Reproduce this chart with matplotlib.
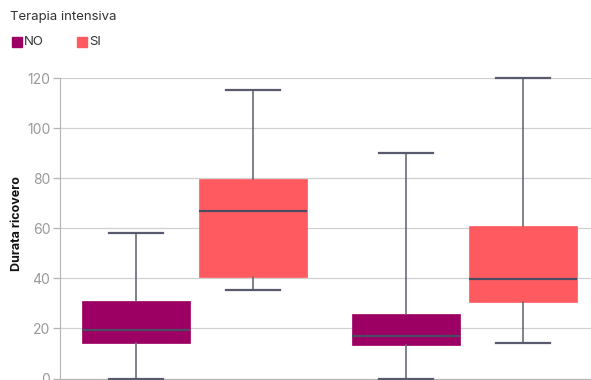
import matplotlib.pyplot as plt
from matplotlib.patches import Rectangle

# categorie (etichette asse x fuori dall'immagine)
gruppi = ['A', 'B']
serie = ['NO', 'SI']
colori = {'NO': '#9c0062', 'SI': '#ff5a5f'}

# statistiche box: min, q1, mediana, q3, max
no_stats = [
    [0, 14, 19.2, 30.8, 58],
    [0, 13.2, 16.8, 25.8, 90],
]
si_stats = [
    [35.2, 40.4, 66.8, 79.6, 115.2],
    [14, 30.4, 39.6, 61, 120],
]

plt.rcParams['font.family'] = ['Inter', 'DejaVu Sans']

fig = plt.figure(figsize=(5.91, 3.8), dpi=100)
ax = fig.add_axes([60 / 591, 1.5 / 380, 539 / 591, 300.5 / 380])

def to_bxp(stats, label):
    out = []
    for s in stats:
        out.append({'whislo': s[0], 'q1': s[1], 'med': s[2], 'q3': s[3],
                    'whishi': s[4], 'fliers': [], 'label': label})
    return out

offset = 0.217
for nome, stats, sh in [('NO', no_stats, -offset), ('SI', si_stats, offset)]:
    pos = [i + sh for i in range(len(gruppi))]
    b = ax.bxp(to_bxp(stats, nome), positions=pos, widths=0.40,
               patch_artist=True, showfliers=False,
               boxprops=dict(facecolor=colori[nome], edgecolor=colori[nome], linewidth=0.5),
               medianprops=dict(color='#4b4b63', linewidth=1.6),
               whiskerprops=dict(color='#6b6b78', linewidth=1.2),
               capprops=dict(color='#5a5a6e', linewidth=1.6),
               capwidths=0.2, manage_ticks=False, zorder=3)
    for art in b['whiskers'] + b['caps']:
        art.set_clip_on(False)

ax.set_xlim(-0.5, 1.5)
ax.set_ylim(0, 120)
ax.set_yticks(range(0, 121, 20))
ax.set_xticks([])
ax.grid(axis='y', color='#d0d0d0', linewidth=0.9, zorder=0)
ax.set_axisbelow(True)
for s in ['top', 'right']:
    ax.spines[s].set_visible(False)
ax.spines['left'].set_color('#b5b5b5')
ax.spines['bottom'].set_color('#b5b5b5')
ax.tick_params(axis='y', colors='#b5b5b5', labelcolor='#999999', labelsize=10, length=5, width=0.9, pad=2)
ax.set_ylabel('Durata ricovero', fontsize=9, fontweight='bold', color='#111111')
ax.yaxis.set_label_coords(-37 / 539, 0.517)

# titolo legenda e voci
fig.text(10 / 591, 1 - 17 / 380, 'Terapia intensiva', fontsize=9.5, color='#333333', va='center')
for x0, nome in [(12, 'NO'), (77, 'SI')]:
    fig.patches.append(Rectangle((x0 / 591, 1 - 47 / 380), 10 / 591, 10 / 380,
                                 transform=fig.transFigure, color=colori[nome]))
    fig.text((x0 + 12) / 591, 1 - 42 / 380, nome, fontsize=9.5, color='#333333', va='center')

fig.savefig('out.png', dpi=100)
